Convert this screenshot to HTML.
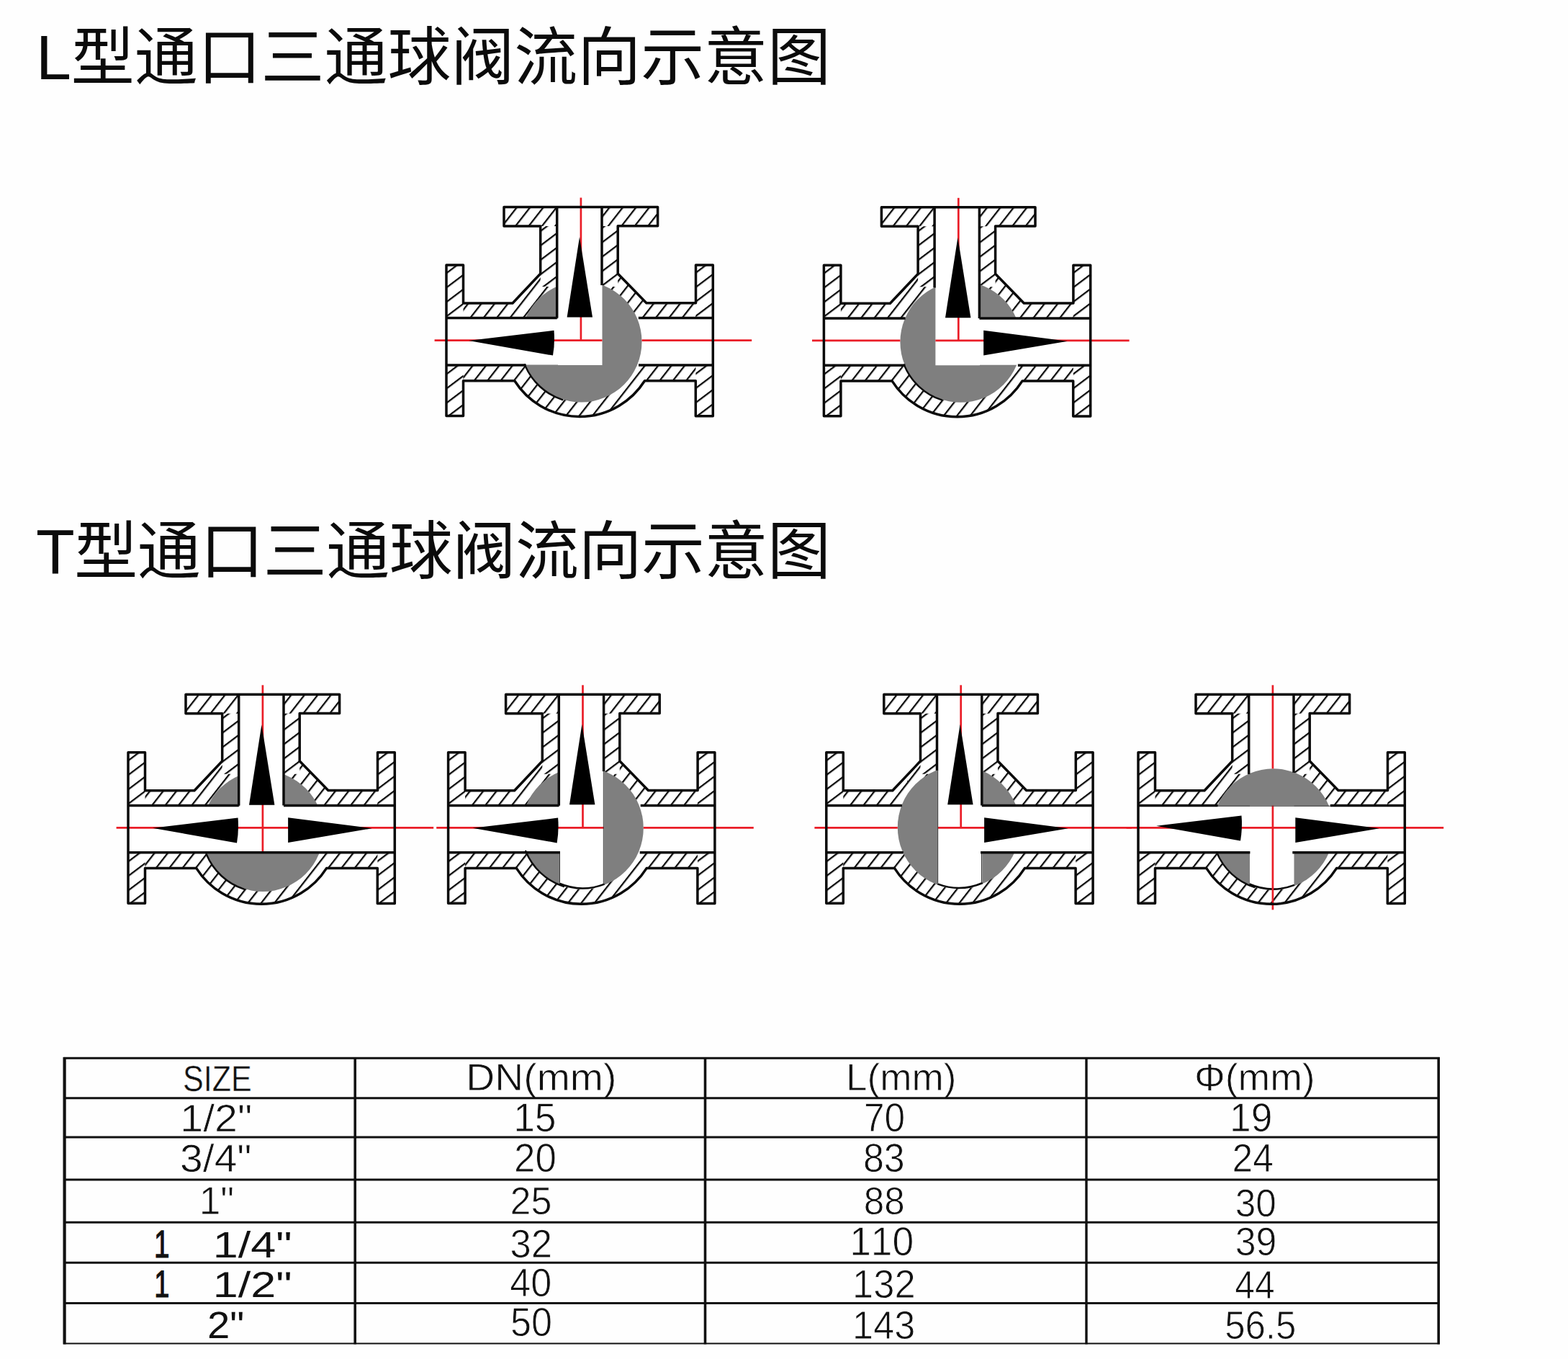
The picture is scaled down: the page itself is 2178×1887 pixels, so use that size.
<!DOCTYPE html>
<html lang="zh"><head><meta charset="utf-8"><title>三通球阀流向示意图</title>
<style>
html,body{margin:0;padding:0;background:#fff;}
body{width:2178px;height:1887px;overflow:hidden;font-family:"Liberation Sans",sans-serif;}
svg{display:block}
</style></head><body>
<svg width="2178" height="1887" viewBox="0 0 2178 1887">
<rect width="2178" height="1887" fill="#fefefe"/>

<defs>
<pattern id="hatch" width="14.5" height="14.5" patternUnits="userSpaceOnUse" patternTransform="translate(3 0) rotate(38)">
<rect width="14.5" height="14.5" fill="#fff"/><line x1="0" y1="-1" x2="0" y2="16" stroke="#0a0a0a" stroke-width="4.6"/>
</pattern>
<pattern id="hatchv" width="16" height="16" patternUnits="userSpaceOnUse" patternTransform="translate(5 0) rotate(53)">
<rect width="16" height="16" fill="#fff"/><line x1="0" y1="-1" x2="0" y2="17" stroke="#0a0a0a" stroke-width="4.6"/>
</pattern>
<g id="body0">
<path d="M620,368H643.5V421H712L750.7,380V314H700V287.5H913.6V313.7H858.2V380L897.9,420.7H966.5V368H990.3V577.8H966.3V528.8H895.5A107,107 0 0 1 714.8,528.8H643.5V577.5H620Z" fill="url(#hatch)"/>
<path d="M620,368H643.5V577.5H620ZM966.4,368H990.3V577.8H966.4ZM750.7,314H773.7V398H750.7ZM836,314H858.2V398H836Z" fill="url(#hatchv)"/>
<path d="M620,441.8H990.3V507H620Z M773.7,287.5H836V441.8H773.7Z" fill="#fff"/>
</g>
<path id="body1" d="M620,368H643.5V421H712L750.7,380V314H700V287.5H913.6V313.7H858.2V380L897.9,420.7H966.5V368H990.3V577.8H966.3V528.8H895.5A107,107 0 0 1 714.8,528.8H643.5V577.5H620Z" fill="none" stroke="#0a0a0a" stroke-width="3.5" stroke-linejoin="round"/>
<path id="arrU" d="M805,329 L823,440.4 H787.6Z" fill="#000"/>
<path id="arrL" d="M651,473 L769.5,458.8 Q771,476 768,493.6 Z" fill="#000"/>
<path id="arrR" d="M957,473.4 L840.3,458.4 V493.2 Z" fill="#000"/>
</defs>
<g id="headings"><title>L型通口三通球阀流向示意图 / T型通口三通球阀流向示意图</title>
<text x="50" y="110" font-size="88" fill="#0b0b0b" textLength="1104" lengthAdjust="spacing" font-family="'Liberation Sans', 'Noto Sans CJK SC', sans-serif">L型通口三通球阀流向示意图</text>
<text x="50" y="795.8" font-size="88" fill="#0b0b0b" textLength="1104" lengthAdjust="spacing" font-family="'Liberation Sans', 'Noto Sans CJK SC', sans-serif">T型通口三通球阀流向示意图</text>
</g>
<g id="valves">
<g transform="translate(0 0)">
<use href="#body0"/>
<circle cx="807.5" cy="474.5" r="84.0" fill="#7f7f7f"/>
<path d="M775,380H836.5V507H775ZM715,442.6H836.5V506.4H715Z" fill="#fff"/>
<g class="r">
<line x1="603.6" y1="472.6" x2="836.5" y2="472.6" stroke="#ea1d27" stroke-width="2.7"/>
<line x1="891.5" y1="472.6" x2="1044.2" y2="472.6" stroke="#ea1d27" stroke-width="2.7"/>
<line x1="806.9" y1="274.5" x2="806.9" y2="472.6" stroke="#ea1d27" stroke-width="2.7"/>
</g>
<path d="M728.9,506.3A84.8,84.8 0 0 0 781.3,555.1" fill="none" stroke="#0a0a0a" stroke-width="2.4" stroke-linecap="round"/>
<use href="#body1"/>
<line x1="773.7" y1="287.5" x2="773.7" y2="441.6" stroke="#0a0a0a" stroke-width="3.5"/>
<line x1="836.0" y1="287.5" x2="836.0" y2="396.0" stroke="#0a0a0a" stroke-width="3.5"/>
<line x1="620.0" y1="441.6" x2="773.7" y2="441.6" stroke="#0a0a0a" stroke-width="3.5"/>
<line x1="886.8" y1="441.6" x2="990.3" y2="441.6" stroke="#0a0a0a" stroke-width="3.5"/>
<line x1="620.0" y1="506.9" x2="730.5" y2="506.9" stroke="#0a0a0a" stroke-width="3.5"/>
<line x1="887.0" y1="506.9" x2="990.3" y2="506.9" stroke="#0a0a0a" stroke-width="3.5"/>
<use href="#arrU"/>
<use href="#arrL"/>
</g>
<g transform="translate(524.4 0.3)">
<use href="#body0"/>
<circle cx="810.0" cy="474.5" r="84" fill="#7f7f7f"/>
<path d="M775,380H836.5V507H775ZM775,442.6H900V506.4H775Z" fill="#fff"/>
<g class="r">
<line x1="603.6" y1="472.6" x2="726.0" y2="472.6" stroke="#ea1d27" stroke-width="2.7"/>
<line x1="775.0" y1="472.6" x2="1044.2" y2="472.6" stroke="#ea1d27" stroke-width="2.7"/>
<line x1="806.9" y1="274.5" x2="806.9" y2="472.6" stroke="#ea1d27" stroke-width="2.7"/>
</g>
<path d="M731.4,506.3A84.8,84.8 0 0 0 783.8,555.1" fill="none" stroke="#0a0a0a" stroke-width="2.4" stroke-linecap="round"/>
<use href="#body1"/>
<line x1="773.7" y1="287.5" x2="773.7" y2="399.2" stroke="#0a0a0a" stroke-width="3.5"/>
<line x1="836.0" y1="287.5" x2="836.0" y2="441.6" stroke="#0a0a0a" stroke-width="3.5"/>
<line x1="620.0" y1="441.6" x2="733.2" y2="441.6" stroke="#0a0a0a" stroke-width="3.5"/>
<line x1="836.0" y1="441.6" x2="990.3" y2="441.6" stroke="#0a0a0a" stroke-width="3.5"/>
<line x1="620.0" y1="506.9" x2="733.0" y2="506.9" stroke="#0a0a0a" stroke-width="3.5"/>
<line x1="889.5" y1="506.9" x2="990.3" y2="506.9" stroke="#0a0a0a" stroke-width="3.5"/>
<use href="#arrU" transform="translate(1 0.5)"/>
<use href="#arrR" transform="translate(1.5 0)"/>
</g>
<g transform="translate(-442 676.8)">
<use href="#body0"/>
<circle cx="807.2" cy="477.2" r="84" fill="#7f7f7f"/>
<path d="M775,380H836.5V507H775ZM715,442.6H836.5V506.4H715ZM775,442.6H900V506.4H775Z" fill="#fff"/>
<g class="r">
<line x1="603.6" y1="472.6" x2="1044.2" y2="472.6" stroke="#ea1d27" stroke-width="2.7"/>
<line x1="806.9" y1="274.5" x2="806.9" y2="506.9" stroke="#ea1d27" stroke-width="2.7"/>
</g>
<path d="M728.6,509.0A84.8,84.8 0 0 0 781.0,557.8" fill="none" stroke="#0a0a0a" stroke-width="2.4" stroke-linecap="round"/>
<use href="#body1"/>
<line x1="773.7" y1="287.5" x2="773.7" y2="441.6" stroke="#0a0a0a" stroke-width="3.5"/>
<line x1="836.0" y1="287.5" x2="836.0" y2="441.6" stroke="#0a0a0a" stroke-width="3.5"/>
<line x1="620.0" y1="441.6" x2="773.7" y2="441.6" stroke="#0a0a0a" stroke-width="3.5"/>
<line x1="836.0" y1="441.6" x2="990.3" y2="441.6" stroke="#0a0a0a" stroke-width="3.5"/>
<line x1="620.0" y1="506.9" x2="990.3" y2="506.9" stroke="#0a0a0a" stroke-width="3.5"/>
<use href="#arrU" transform="translate(0.4 0.5)"/>
<use href="#arrL" transform="translate(3 0)"/>
<use href="#arrR" transform="translate(1.8 0)"/>
</g>
<g transform="translate(2.6 676.8)">
<use href="#body0"/>
<circle cx="806.7" cy="473.0" r="84.5" fill="#7f7f7f"/>
<path d="M775,380H836.5V507H775ZM715,442.6H836.5V506.4H715ZM775,442H836.5V552.4A84.8,84.8 0 0 1 775,551.7Z" fill="#fff"/>
<path d="M774.5,550.0A83.3,83.3 0 0 0 837.0,550.8" fill="none" stroke="#0a0a0a" stroke-width="2.6"/>
<g class="r">
<line x1="603.6" y1="472.6" x2="836.5" y2="472.6" stroke="#ea1d27" stroke-width="2.7"/>
<line x1="891.2" y1="472.6" x2="1044.2" y2="472.6" stroke="#ea1d27" stroke-width="2.7"/>
<line x1="806.9" y1="274.5" x2="806.9" y2="472.6" stroke="#ea1d27" stroke-width="2.7"/>
</g>
<path d="M727.6,505.0A85.3,85.3 0 0 0 780.3,554.1" fill="none" stroke="#0a0a0a" stroke-width="2.4" stroke-linecap="round"/>
<use href="#body1"/>
<line x1="773.7" y1="287.5" x2="773.7" y2="441.6" stroke="#0a0a0a" stroke-width="3.5"/>
<line x1="836.0" y1="287.5" x2="836.0" y2="394.2" stroke="#0a0a0a" stroke-width="3.5"/>
<line x1="774.9" y1="506.9" x2="774.9" y2="548.8" stroke="#3a3a3a" stroke-width="1.0"/>
<line x1="835.7" y1="393.7" x2="835.7" y2="550.3" stroke="#3a3a3a" stroke-width="1.0"/>
<line x1="620.0" y1="441.6" x2="773.7" y2="441.6" stroke="#0a0a0a" stroke-width="3.5"/>
<line x1="887.1" y1="441.6" x2="990.3" y2="441.6" stroke="#0a0a0a" stroke-width="3.5"/>
<line x1="620.0" y1="506.9" x2="775.4" y2="506.9" stroke="#0a0a0a" stroke-width="3.5"/>
<line x1="886.1" y1="506.9" x2="990.3" y2="506.9" stroke="#0a0a0a" stroke-width="3.5"/>
<use href="#arrU" transform="translate(0.8 0)"/>
<use href="#arrL" transform="translate(3 0)"/>
</g>
<g transform="translate(527.8 676.8)">
<use href="#body0"/>
<circle cx="804.0" cy="472.0" r="85" fill="#7f7f7f"/>
<path d="M775,380H836.5V507H775ZM775,442.6H900V506.4H775ZM775,442H836.5V550.9A85.3,85.3 0 0 1 775,552.2Z" fill="#fff"/>
<path d="M774.5,550.6A83.8,83.8 0 0 0 837.0,549.2" fill="none" stroke="#0a0a0a" stroke-width="2.6"/>
<g class="r">
<line x1="603.6" y1="472.6" x2="719.0" y2="472.6" stroke="#ea1d27" stroke-width="2.7"/>
<line x1="775.0" y1="472.6" x2="1044.2" y2="472.6" stroke="#ea1d27" stroke-width="2.7"/>
<line x1="806.9" y1="274.5" x2="806.9" y2="472.6" stroke="#ea1d27" stroke-width="2.7"/>
</g>
<use href="#body1"/>
<line x1="773.7" y1="287.5" x2="773.7" y2="393.1" stroke="#0a0a0a" stroke-width="3.5"/>
<line x1="836.0" y1="287.5" x2="836.0" y2="441.6" stroke="#0a0a0a" stroke-width="3.5"/>
<line x1="774.9" y1="392.6" x2="774.9" y2="549.4" stroke="#3a3a3a" stroke-width="1.0"/>
<line x1="835.7" y1="506.9" x2="835.7" y2="548.7" stroke="#3a3a3a" stroke-width="1.0"/>
<line x1="620.0" y1="441.6" x2="725.1" y2="441.6" stroke="#0a0a0a" stroke-width="3.5"/>
<line x1="836.0" y1="441.6" x2="990.3" y2="441.6" stroke="#0a0a0a" stroke-width="3.5"/>
<line x1="620.0" y1="506.9" x2="727.0" y2="506.9" stroke="#0a0a0a" stroke-width="3.5"/>
<line x1="834.3" y1="506.9" x2="990.3" y2="506.9" stroke="#0a0a0a" stroke-width="3.5"/>
<use href="#arrU" transform="translate(0.8 0)"/>
<use href="#arrR" transform="translate(-1 0)"/>
</g>
<g transform="translate(961 676.8)">
<use href="#body0"/>
<circle cx="807.5" cy="474.5" r="84.0" fill="#7f7f7f"/>
<path d="M715,442.6H836.5V506.4H715ZM775,442.6H900V506.4H775ZM775,442H836.5V553.7A84.3,84.3 0 0 1 775,552.3Z" fill="#fff"/>
<path d="M774.5,550.7A82.8,82.8 0 0 0 837.0,552.1" fill="none" stroke="#0a0a0a" stroke-width="2.6"/>
<g class="r">
<line x1="603.6" y1="472.6" x2="1044.2" y2="472.6" stroke="#ea1d27" stroke-width="2.7"/>
<line x1="806.9" y1="274.5" x2="806.9" y2="390.5" stroke="#ea1d27" stroke-width="2.7"/>
<line x1="806.9" y1="441.6" x2="806.9" y2="586.5" stroke="#ea1d27" stroke-width="2.7"/>
</g>
<path d="M728.9,506.3A84.8,84.8 0 0 0 781.3,555.1" fill="none" stroke="#0a0a0a" stroke-width="2.4" stroke-linecap="round"/>
<use href="#body1"/>
<line x1="773.7" y1="287.5" x2="773.7" y2="398.1" stroke="#0a0a0a" stroke-width="3.5"/>
<line x1="836.0" y1="287.5" x2="836.0" y2="396.0" stroke="#0a0a0a" stroke-width="3.5"/>
<line x1="620.0" y1="441.6" x2="730.7" y2="441.6" stroke="#0a0a0a" stroke-width="3.5"/>
<line x1="886.8" y1="441.6" x2="990.3" y2="441.6" stroke="#0a0a0a" stroke-width="3.5"/>
<line x1="730.7" y1="442.4" x2="886.8" y2="442.4" stroke="#3a3a3a" stroke-width="1.0"/>
<line x1="620.0" y1="506.9" x2="775.4" y2="506.9" stroke="#0a0a0a" stroke-width="3.5"/>
<line x1="834.3" y1="506.9" x2="990.3" y2="506.9" stroke="#0a0a0a" stroke-width="3.5"/>
<use href="#arrL" transform="translate(-6 -3)"/>
<use href="#arrR" transform="translate(-2 0)"/>
</g>

</g>
<g id="table-text" fill="#111" font-family="'Liberation Sans', sans-serif" text-rendering="geometricPrecision" style="font-kerning:none"><text transform="matrix(0.4306 0 0 0.5056 254.04 1515.10)" font-size="100" stroke="#fff" stroke-width="0.93" >SIZE</text>
<text transform="matrix(0.5736 0 0 0.5341 250.23 1571.20)" font-size="100" stroke="#fff" stroke-width="1.39" >1/2&quot;</text>
<text transform="matrix(0.5707 0 0 0.5410 250.03 1627.30)" font-size="100" stroke="#fff" stroke-width="1.40" >3/4&quot;</text>
<text transform="matrix(0.5338 0 0 0.5480 276.63 1686.30)" font-size="100" stroke="#fff" stroke-width="1.50" >1&quot;</text>
<text transform="matrix(0.3872 0 0 0.5378 214.00 1745.60)" font-size="100" stroke="#111" stroke-width="2.32" >1</text>
<text transform="matrix(0.6290 0 0 0.5106 295.71 1745.60)" font-size="100" >1/4&quot;</text>
<text transform="matrix(0.3799 0 0 0.5276 214.22 1801.20)" font-size="100" stroke="#111" stroke-width="2.37" >1</text>
<text transform="matrix(0.6290 0 0 0.5010 295.71 1801.20)" font-size="100" >1/2&quot;</text>
<text transform="matrix(0.5621 0 0 0.5276 287.97 1858.00)" font-size="100" >2&quot;</text>
<text transform="matrix(0.5536 0 0 0.5276 647.36 1514.40)" font-size="100" stroke="#fff" stroke-width="1.44" >DN(mm)</text>
<text transform="matrix(0.5341 0 0 0.5625 713.13 1571.20)" font-size="100" stroke="#fff" stroke-width="1.50" >15</text>
<text transform="matrix(0.5289 0 0 0.5614 714.04 1627.30)" font-size="100" stroke="#fff" stroke-width="1.51" >20</text>
<text transform="matrix(0.5216 0 0 0.5399 708.48 1686.30)" font-size="100" stroke="#fff" stroke-width="1.53" >25</text>
<text transform="matrix(0.5264 0 0 0.5542 708.40 1746.30)" font-size="100" stroke="#fff" stroke-width="1.52" >32</text>
<text transform="matrix(0.5227 0 0 0.5552 708.20 1799.50)" font-size="100" stroke="#fff" stroke-width="1.53" >40</text>
<text transform="matrix(0.5217 0 0 0.5625 709.01 1855.10)" font-size="100" stroke="#fff" stroke-width="1.53" >50</text>
<text transform="matrix(0.5313 0 0 0.5276 1175.04 1514.40)" font-size="100" stroke="#fff" stroke-width="1.51" >L(mm)</text>
<text transform="matrix(0.5137 0 0 0.5625 1199.97 1571.20)" font-size="100" stroke="#fff" stroke-width="1.56" >70</text>
<text transform="matrix(0.5191 0 0 0.5614 1198.94 1627.30)" font-size="100" stroke="#fff" stroke-width="1.54" >83</text>
<text transform="matrix(0.5120 0 0 0.5399 1199.68 1686.30)" font-size="100" stroke="#fff" stroke-width="1.56" >88</text>
<text transform="matrix(0.5344 0 0 0.5625 1180.13 1743.20)" font-size="100" stroke="#fff" stroke-width="1.50" >110</text>
<text transform="matrix(0.5240 0 0 0.5552 1184.11 1801.90)" font-size="100" stroke="#fff" stroke-width="1.53" >132</text>
<text transform="matrix(0.5218 0 0 0.5523 1184.12 1858.50)" font-size="100" stroke="#fff" stroke-width="1.53" >143</text>
<text transform="matrix(0.5357 0 0 0.5276 1659.04 1514.40)" font-size="100" stroke="#fff" stroke-width="1.49" >Φ(mm)</text>
<text transform="matrix(0.5330 0 0 0.5625 1708.04 1571.20)" font-size="100" stroke="#fff" stroke-width="1.50" >19</text>
<text transform="matrix(0.5151 0 0 0.5542 1711.51 1627.30)" font-size="100" stroke="#fff" stroke-width="1.55" >24</text>
<text transform="matrix(0.5139 0 0 0.5399 1715.74 1689.20)" font-size="100" stroke="#fff" stroke-width="1.56" >30</text>
<text transform="matrix(0.5181 0 0 0.5542 1715.73 1743.20)" font-size="100" stroke="#fff" stroke-width="1.54" >39</text>
<text transform="matrix(0.4971 0 0 0.5523 1715.36 1802.90)" font-size="100" stroke="#fff" stroke-width="1.61" >44</text>
<text transform="matrix(0.5096 0 0 0.5523 1701.16 1858.50)" font-size="100" stroke="#fff" stroke-width="1.57" >56.5</text></g>
<g id="table-lines"><line x1="88.0" y1="1469.3" x2="1999.8" y2="1469.3" stroke="#111" stroke-width="3.0"/>
<line x1="88.0" y1="1524.7" x2="1999.8" y2="1524.7" stroke="#111" stroke-width="3.0"/>
<line x1="88.0" y1="1579.0" x2="1999.8" y2="1579.0" stroke="#111" stroke-width="3.0"/>
<line x1="88.0" y1="1638.0" x2="1999.8" y2="1638.0" stroke="#111" stroke-width="3.0"/>
<line x1="88.0" y1="1697.3" x2="1999.8" y2="1697.3" stroke="#111" stroke-width="3.0"/>
<line x1="88.0" y1="1753.3" x2="1999.8" y2="1753.3" stroke="#111" stroke-width="3.0"/>
<line x1="88.0" y1="1809.5" x2="1999.8" y2="1809.5" stroke="#111" stroke-width="3.0"/>
<line x1="88.0" y1="1865.6" x2="1999.8" y2="1865.6" stroke="#111" stroke-width="2.0"/>
<line x1="89.6" y1="1468.1" x2="89.6" y2="1866.6" stroke="#111" stroke-width="4.2"/>
<line x1="493.2" y1="1468.1" x2="493.2" y2="1866.6" stroke="#111" stroke-width="3.6"/>
<line x1="979.5" y1="1468.1" x2="979.5" y2="1866.6" stroke="#111" stroke-width="3.6"/>
<line x1="1509.0" y1="1468.1" x2="1509.0" y2="1866.6" stroke="#111" stroke-width="3.4"/>
<line x1="1998.2" y1="1468.1" x2="1998.2" y2="1866.6" stroke="#111" stroke-width="3.6"/></g>
</svg>
</body></html>
